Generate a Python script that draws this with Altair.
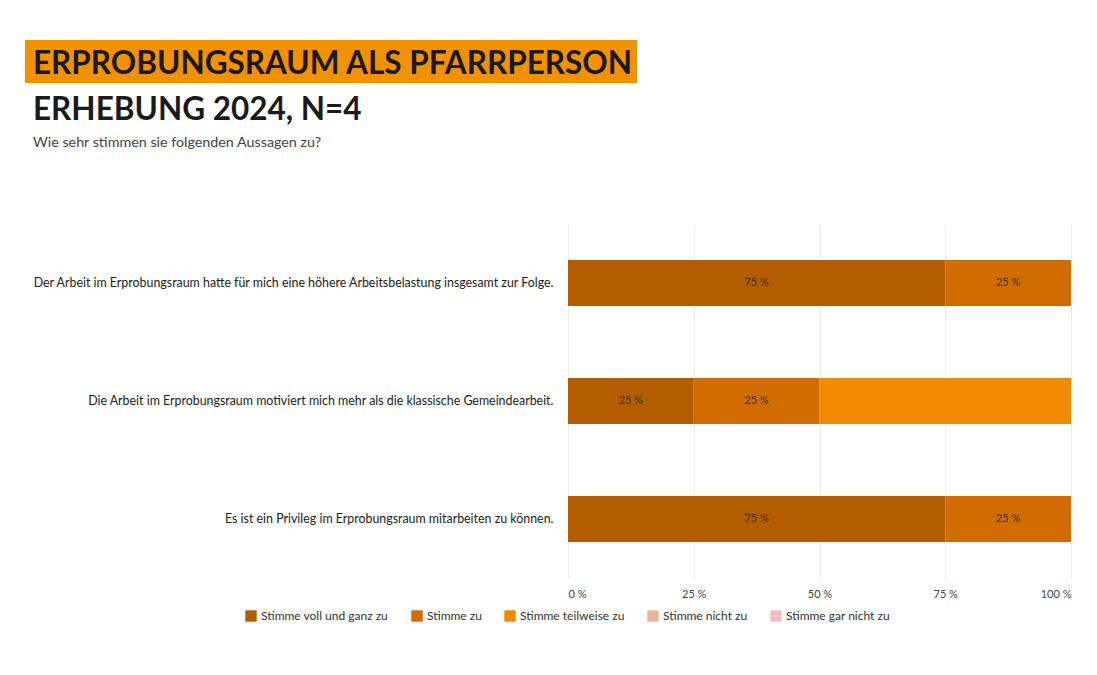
import altair as alt
import pandas as pd

questions = [
    "Der Arbeit im Erprobungsraum hatte für mich eine höhere Arbeitsbelastung insgesamt zur Folge.",
    "Die Arbeit im Erprobungsraum motiviert mich mehr als die klassische Gemeindearbeit.",
    "Es ist ein Privileg im Erprobungsraum mitarbeiten zu können.",
]
categories = ["Stimme voll und ganz zu", "Stimme zu", "Stimme teilweise zu",
              "Stimme nicht zu", "Stimme gar nicht zu"]
colors = ["#b35c00", "#d06c00", "#f28a00", "#e8b49a", "#f2bcc4"]
q1_values = [75, 25, 0, 0, 0]
q2_values = [25, 25, 50, 0, 0]
q3_values = [75, 25, 0, 0, 0]
label_shown = [True, True, False, True, True]

title_text = "ERPROBUNGSRAUM ALS PFARRPERSON"
subtitle_text = "ERHEBUNG 2024, N=4"
question_text = "Wie sehr stimmen sie folgenden Aussagen zu?"

rows = []
for q, vals in zip(questions, [q1_values, q2_values, q3_values]):
    for i, (c, v) in enumerate(zip(categories, vals)):
        if v > 0:
            rows.append({"question": q, "category": c, "value": v, "order": i,
                         "label": f"{v} %" if label_shown[i] else ""})
df = pd.DataFrame(rows)

FONT = "Lato"

base = alt.Chart(df).transform_stack(
    stack="value", groupby=["question"], as_=["x0", "x1"],
    sort=[alt.SortField("order", order="ascending")]
).transform_calculate(mid="(datum.x0 + datum.x1) / 2")

yenc = alt.Y("question:N", sort=questions, title=None,
             scale=alt.Scale(paddingInner=0.61, paddingOuter=0.305),
             axis=alt.Axis(labelFontSize=12.4, labelColor="#222", labelLimit=700,
                           labelPadding=15, domain=False, ticks=False, grid=False,
                           labelFont=FONT))

bars = base.mark_bar().encode(
    x=alt.X("x0:Q", title=None, scale=alt.Scale(domain=[0, 100], nice=False),
            axis=alt.Axis(values=[0, 25, 50, 75, 100], labelExpr="datum.value + ' %'",
                          labelFontSize=11, labelColor="#444", labelPadding=10,
                          domain=False, ticks=False, grid=True, gridColor="#ececec",
                          labelFont=FONT)),
    x2="x1:Q",
    y=yenc,
    color=alt.Color("category:N", scale=alt.Scale(domain=categories, range=colors),
                    legend=alt.Legend(title=None, orient="none", direction="horizontal",
                                      legendX=-323, legendY=386, symbolType="square",
                                      symbolSize=130, symbolStrokeWidth=0,
                                      labelFontSize=12, labelColor="#333",
                                      labelFont=FONT, columnPadding=22)),
)

texts = base.mark_text(fontSize=11, color="#4a2e08", font=FONT).encode(
    x="mid:Q",
    y=alt.Y("question:N", sort=questions),
    text="label:N",
)

one = pd.DataFrame({"t": [title_text], "s": [subtitle_text], "q": [question_text]})
title_bg = alt.Chart(one).mark_rect(color="#f39200").encode(
    x=alt.value(-543), x2=alt.value(69), y=alt.value(-184), y2=alt.value(-141))
title = alt.Chart(one).mark_text(align="left", baseline="alphabetic", font=FONT,
                                 fontWeight="bold", fontSize=31.5, color="#1a1a1a").encode(
    text="t:N", x=alt.value(-535), y=alt.value(-150))
subtitle = alt.Chart(one).mark_text(align="left", baseline="alphabetic", font=FONT,
                                    fontWeight="bold", fontSize=31.5, color="#1a1a1a").encode(
    text="s:N", x=alt.value(-535), y=alt.value(-104))
question = alt.Chart(one).mark_text(align="left", baseline="alphabetic", font=FONT,
                                    fontSize=14.3, color="#444").encode(
    text="q:N", x=alt.value(-535), y=alt.value(-77))

chart = alt.layer(bars, texts, title_bg, title, subtitle, question).properties(
    width=503, height=354,
    autosize=alt.AutoSizeParams(type="none"),
    padding={"left": 560, "top": 216, "right": 18, "bottom": 89},
).configure(background="white").configure_view(stroke=None)

chart.save("out.html", embed_options={"renderer": "svg", "actions": False})
